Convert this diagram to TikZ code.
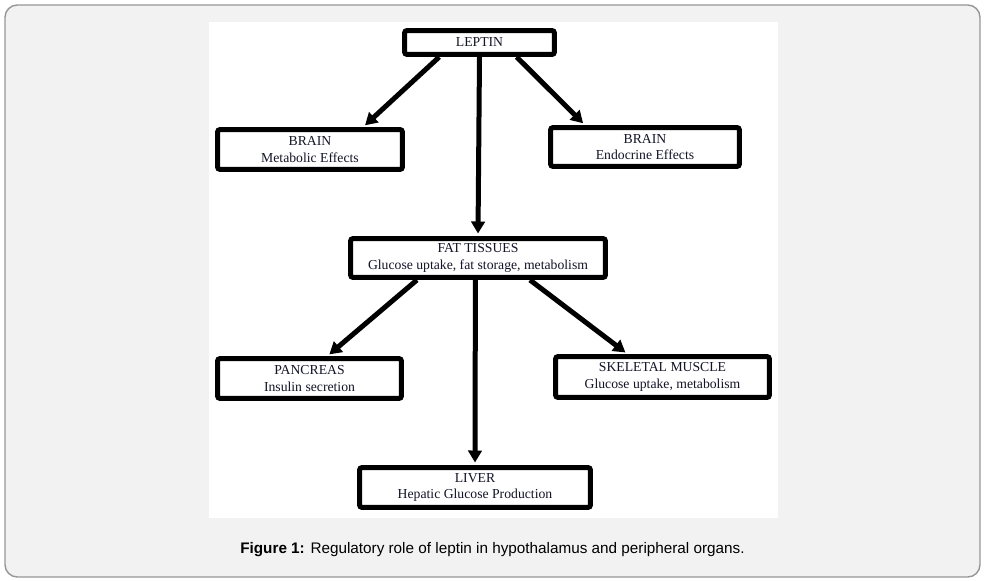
\documentclass[tikz,border=0pt]{standalone}
\usepackage{fontspec}
\setmainfont{Liberation Serif}
\newfontfamily\capfont{Liberation Sans}
\usetikzlibrary{arrows.meta, calc}
\definecolor{pagecol}{RGB}{242, 242, 242}
\definecolor{framecol}{RGB}{150, 150, 150}
\definecolor{inkcol}{RGB}{0, 0, 0}
\definecolor{txtcol}{RGB}{20, 20, 40}
\tikzset{
  organ/.style = {draw=inkcol, line width=0.1cm, rounded corners=1.5pt,
                  fill=white, align=center, inner sep=1pt, text=txtcol,
                  font=\fontsize{7.8}{9.6}\selectfont},
  hormone/.style = {organ, minimum width=3cm, minimum height=0.48cm},
  % thick black arrows, filled triangular heads
  feed/.style  = {-{Triangle[length=0.24cm, width=0.27cm]}, draw=inkcol,
                  line width=0.1cm, shorten >=0.05cm},
  caption/.style = {font=\capfont\fontsize{8.7}{10}\selectfont, inner sep=0pt},
}

\begin{document}
\begin{tikzpicture}[x=0.02cm, y=-0.02cm]

  %% ---------------- the page ----------------
  \useasboundingbox (0,0) rectangle (985,581);
  \draw[fill=pagecol, draw=framecol, line width=0.8pt, rounded corners=7pt]
       (5,5) rectangle (980,577);
  \fill[white] (209,22) rectangle (778,518);

  %% ---------------- the boxes ----------------
  \node[hormone] (leptin) at (479.5,42.5) {LEPTIN};

  \node[organ, minimum width=3.7cm, minimum height=0.8cm] (brainm)
       at (310,149.5) {BRAIN\\Metabolic Effects};
  \node[organ, minimum width=3.78cm, minimum height=0.78cm] (braine)
       at (645,147) {BRAIN\\Endocrine Effects};

  \node[organ, minimum width=5.1cm, minimum height=0.78cm] (fat)
       at (478,258) {FAT TISSUES\\Glucose uptake,\ fat storage,\ metabolism};

  \node[organ, minimum width=3.68cm, minimum height=0.8cm] (pancreas)
       at (309.5,378.5) {PANCREAS\\Insulin secretion};
  \node[organ, minimum width=4.28cm, minimum height=0.82cm] (muscle)
       at (662.5,377) {SKELETAL MUSCLE\\Glucose uptake,\ metabolism};
  \node[organ, minimum width=4.62cm, minimum height=0.8cm] (liver)
       at (475,487.5) {LIVER\\Hepatic Glucose Production};

  %% ---------------- edges ----------------
  \draw[feed] ($(leptin.south west)!0.24!(leptin.south east)$)
       -- ($(brainm.north west)!0.78!(brainm.north east)$);
  \draw[feed] ($(leptin.south west)!0.74!(leptin.south east)$)
       -- ($(braine.north west)!0.19!(braine.north east)$);
  \draw[feed] (leptin.south) -- (fat.north);

  \draw[feed] ($(fat.south west)!0.265!(fat.south east)$)
       -- ($(pancreas.north west)!0.595!(pancreas.north east)$);
  \draw[feed] ($(fat.south west)!0.70!(fat.south east)$)
       -- ($(muscle.north west)!0.34!(muscle.north east)$);
  \draw[feed] ($(fat.south west)!0.49!(fat.south east)$) -- (liver.north);

  %% ---------------- caption ----------------
  \node[caption] (cap) at (492.5,550)
       {\textbf{Figure 1:} Regulatory role of leptin in hypothalamus and
        peripheral organs.};

\end{tikzpicture}
\end{document}
